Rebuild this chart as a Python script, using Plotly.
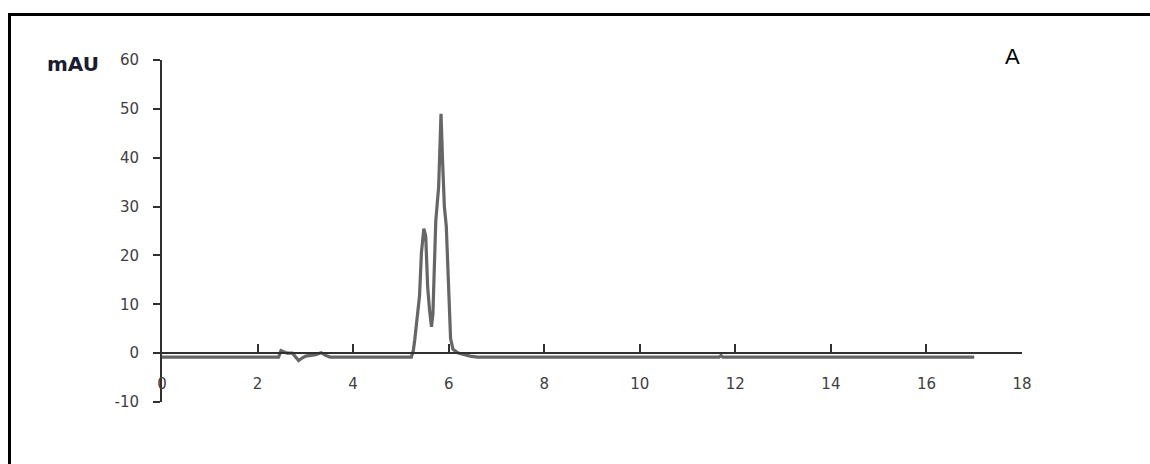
import plotly.graph_objects as go

# Chromatogram data (retention time in min, absorbance in mAU)
time_min = [0.0, 2.44, 2.49, 2.55, 2.62, 2.73, 2.80, 2.86, 2.93, 3.01, 3.22, 3.33, 3.43, 3.52,
            5.22, 5.26, 5.29, 5.34, 5.39, 5.43, 5.48, 5.52, 5.56, 5.60, 5.64, 5.67, 5.73,
            5.79, 5.84, 5.87, 5.91, 5.95, 5.99, 6.02, 6.04, 6.09, 6.20, 6.45, 6.60,
            11.66, 11.70, 11.74, 17.0]
mau = [-0.8, -0.8, 0.5, 0.2, 0.0, 0.0, -0.8, -1.5, -1.0, -0.6, -0.3, 0.1, -0.5, -0.8,
       -0.8, 0.5, 2.7, 7.0, 11.7, 20.6, 25.5, 24.0, 13.6, 8.8, 5.4, 8.0, 27.0,
       34.0, 49.0, 40.0, 30.0, 26.0, 16.0, 8.0, 3.0, 0.8, 0.0, -0.6, -0.8,
       -0.8, -0.5, -0.8, -0.8]

x_ticks = [0, 2, 4, 6, 8, 10, 12, 14, 16, 18]
y_ticks = [-10, 0, 10, 20, 30, 40, 50, 60]
x_range = [0, 18]
y_range = [-10, 60]

W, H = 1150, 464
ML, MR, MT, MB = 162, 128, 60, 62
PW, PH = W - ML - MR, H - MT - MB


def px_to_paper_x(px):
    return (px - ML) / PW


def py_to_paper_y(py):
    return (H - MB - py) / PH


fig = go.Figure()
fig.add_trace(go.Scatter(
    x=time_min, y=mau, mode="lines",
    line=dict(color="#666666", width=3.2),
    showlegend=False, hoverinfo="x+y",
))

tick_font = dict(family="DejaVu Sans", size=15, color="#404040")

fig.update_layout(
    width=W, height=H,
    margin=dict(l=ML, r=MR, t=MT, b=MB, pad=0),
    paper_bgcolor="white", plot_bgcolor="white",
    xaxis=dict(
        range=x_range, tickvals=x_ticks, ticktext=[str(v) for v in x_ticks],
        showgrid=False, zeroline=False,
        showline=True, linecolor="#303030", linewidth=2,
        ticks="inside", ticklen=8, tickwidth=1.5, tickcolor="#303030",
        anchor="free", position=(0 - y_range[0]) / (y_range[1] - y_range[0]),
        tickfont=tick_font, ticklabelstandoff=17,
    ),
    yaxis=dict(
        range=y_range, tickvals=y_ticks, ticktext=[str(v) for v in y_ticks],
        showgrid=False, zeroline=False,
        showline=True, linecolor="#303030", linewidth=2,
        ticks="outside", ticklen=7, tickwidth=1.5, tickcolor="#303030",
        tickfont=tick_font, ticklabelstandoff=11,
    ),
    shapes=[
        dict(type="line", xref="paper", yref="paper",
             x0=px_to_paper_x(9.5), x1=px_to_paper_x(9.5),
             y0=py_to_paper_y(480), y1=py_to_paper_y(13.5),
             line=dict(color="black", width=3)),
        dict(type="line", xref="paper", yref="paper",
             x0=px_to_paper_x(8), x1=px_to_paper_x(1160),
             y0=py_to_paper_y(14.5), y1=py_to_paper_y(14.5),
             line=dict(color="black", width=3)),
    ],
    annotations=[
        dict(text="<b>mAU</b>", xref="paper", yref="paper",
             x=px_to_paper_x(45), y=py_to_paper_y(64),
             xanchor="left", yanchor="middle", showarrow=False,
             font=dict(family="DejaVu Sans", size=20, color="#1c1c30")),
        dict(text="A", xref="paper", yref="paper",
             x=px_to_paper_x(1012), y=py_to_paper_y(57),
             xanchor="center", yanchor="middle", showarrow=False,
             font=dict(family="Liberation Sans", size=22, color="black")),
    ],
)

fig.write_html("out.html")
